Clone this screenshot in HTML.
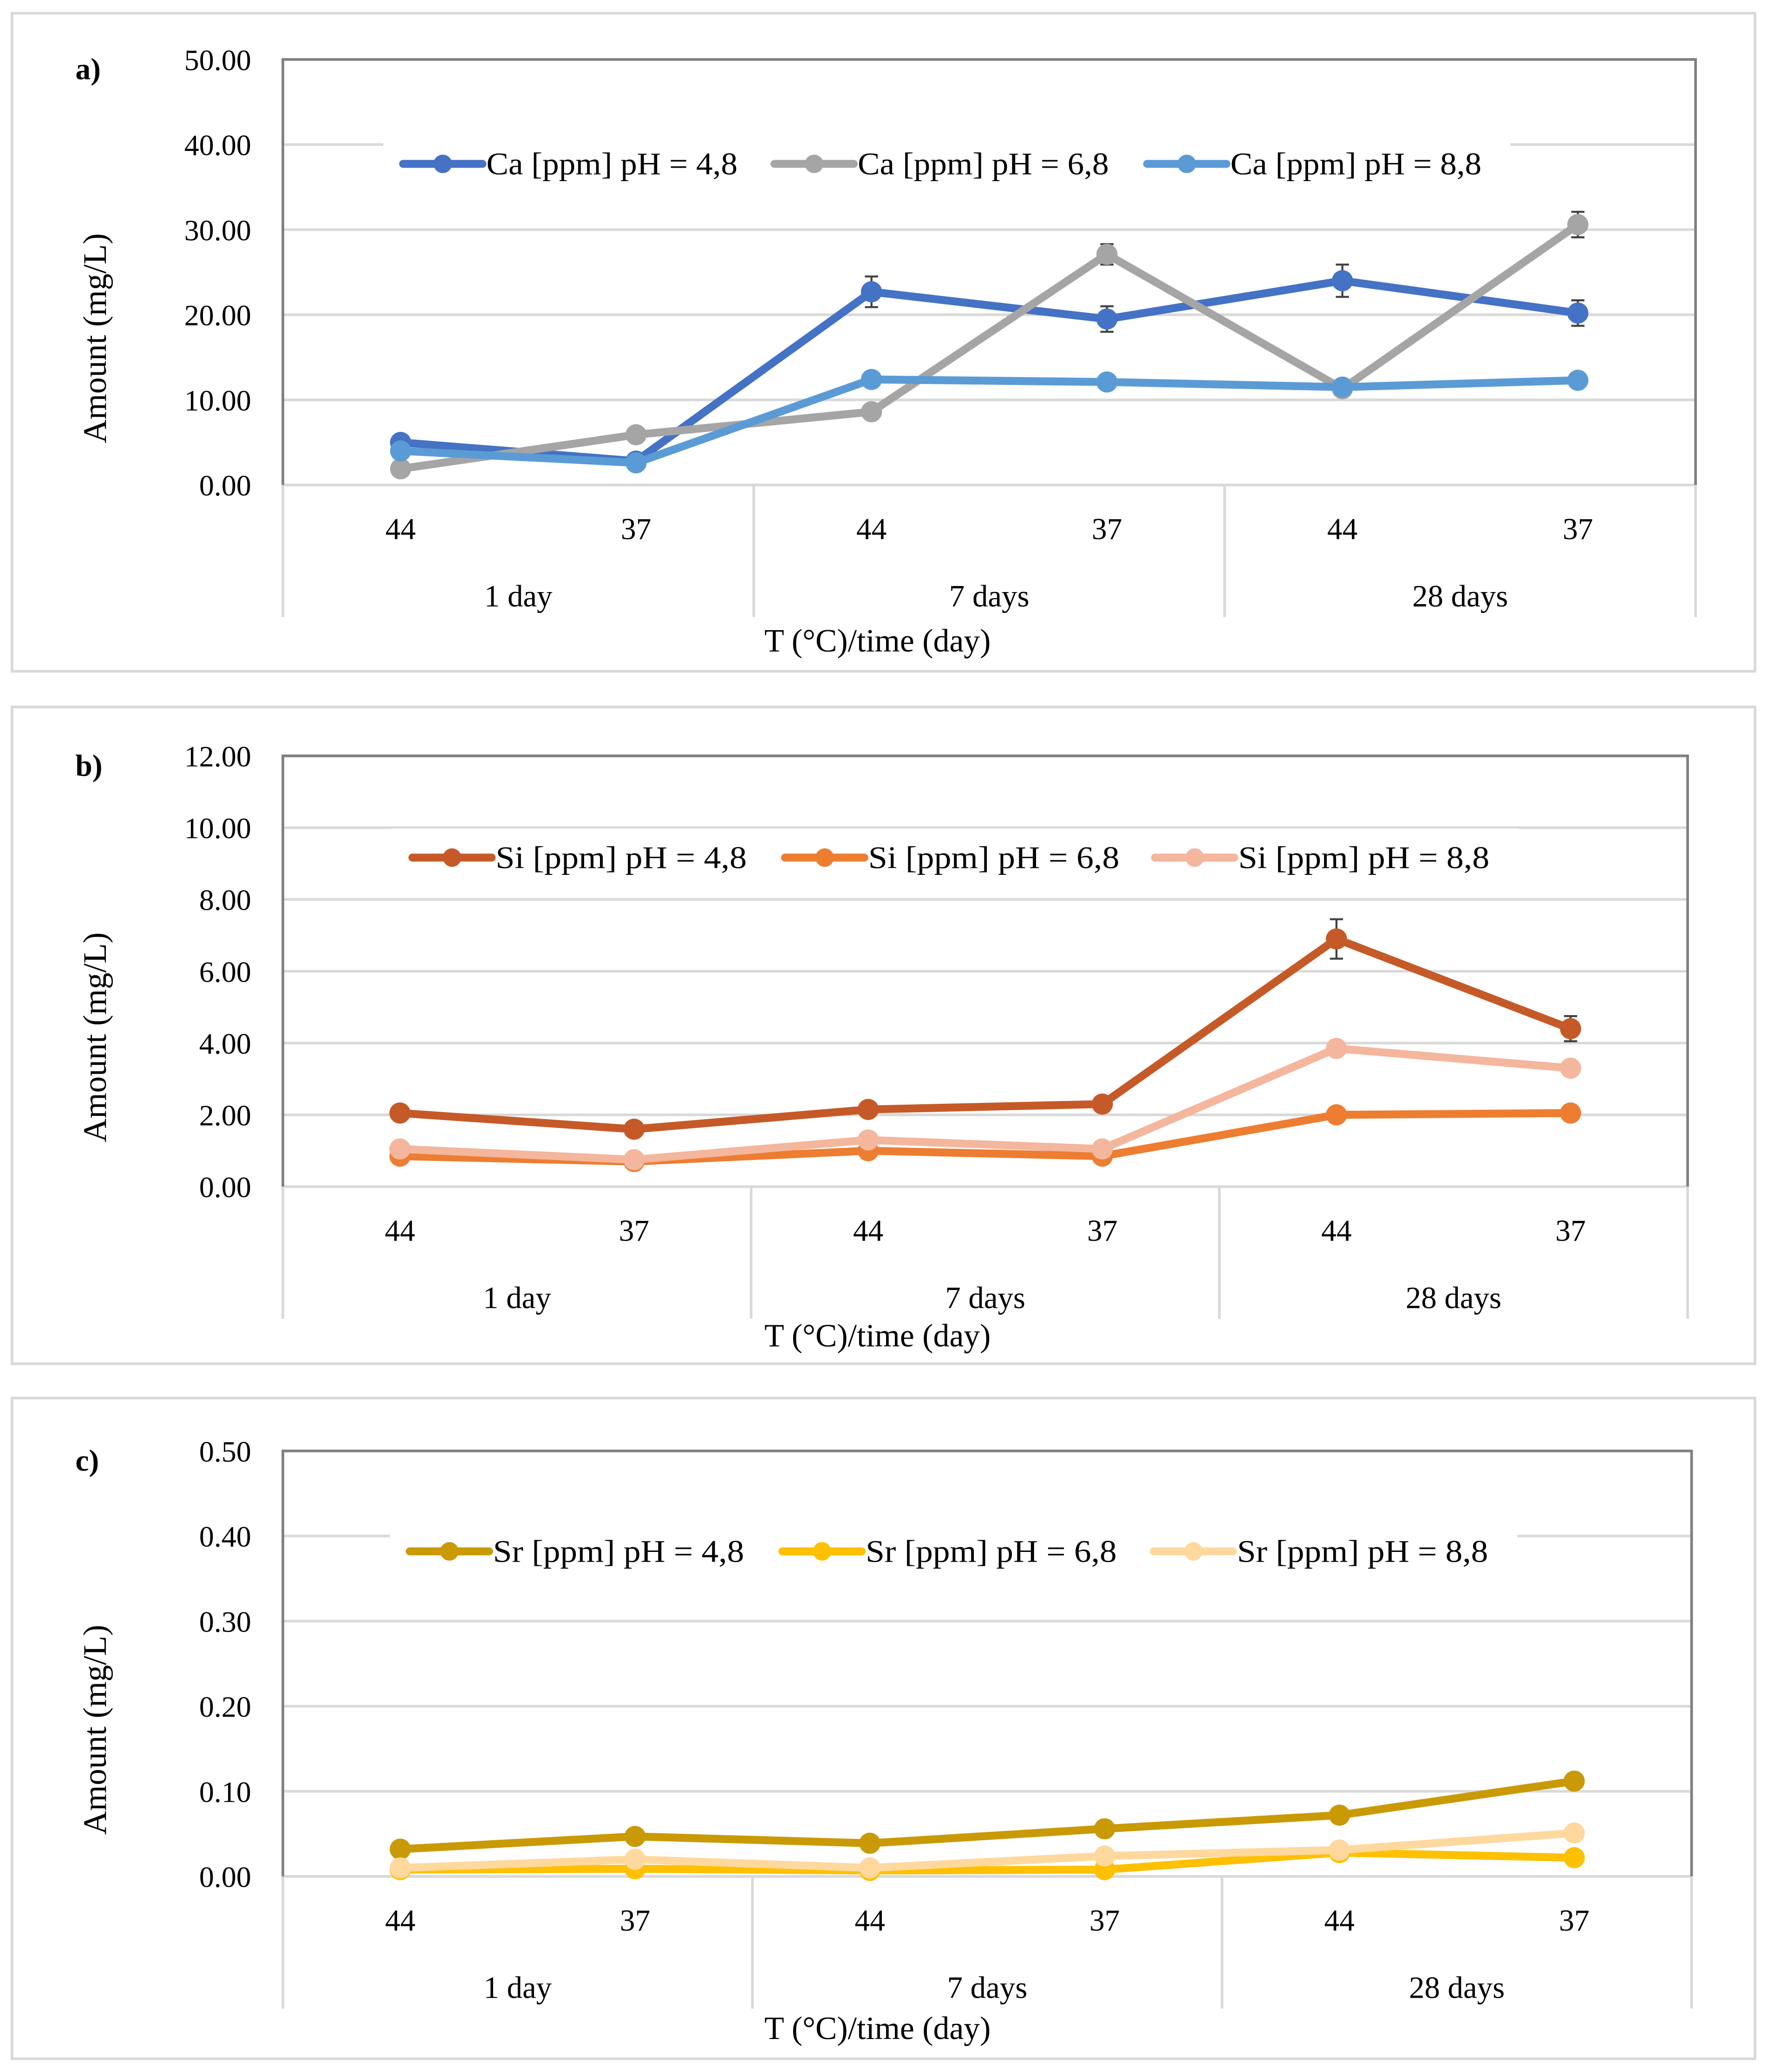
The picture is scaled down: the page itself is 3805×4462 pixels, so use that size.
<!DOCTYPE html>
<html><head><meta charset="utf-8">
<style>
html,body{margin:0;padding:0;background:#fff;}
svg{display:block;}
text{font-family:"Liberation Serif",serif;fill:#000;}
</style></head>
<body>
<svg id="fig" width="3805" height="4462" viewBox="0 0 1337 1568" xmlns="http://www.w3.org/2000/svg"></svg>
<script>
// Shared categories
const temps = ["44","37","44","37","44","37"];
const groups = ["1 day","7 days","28 days"];

// Panel a (Ca)
const caTicks = [0,10,20,30,40,50];
const caLabels = ["Ca [ppm] pH = 4,8","Ca [ppm] pH = 6,8","Ca [ppm] pH = 8,8"];
const ca48 = [5.0,2.8,22.7,19.5,24.0,20.2];
const ca48err = [0.5,0.4,1.8,1.5,1.9,1.5];
const ca68 = [1.9,5.9,8.6,27.1,11.3,30.6];
const ca68err = [0.3,0.4,0.5,1.2,0.5,1.5];
const ca88 = [4.0,2.6,12.4,12.1,11.5,12.3];
const ca88err = [0.3,0.3,0.4,0.4,0.4,0.4];

// Panel b (Si)
const siTicks = [0,2,4,6,8,10,12];
const siLabels = ["Si [ppm] pH = 4,8","Si [ppm] pH = 6,8","Si [ppm] pH = 8,8"];
const si48 = [2.05,1.6,2.15,2.3,6.9,4.4];
const si48err = [0.08,0.06,0.08,0.08,0.55,0.35];
const si68 = [0.85,0.7,1.0,0.85,2.0,2.05];
const si68err = [0.04,0.04,0.05,0.04,0.08,0.08];
const si88 = [1.05,0.75,1.3,1.05,3.85,3.3];
const si88err = [0.05,0.04,0.06,0.05,0.15,0.12];

// Panel c (Sr)
const srTicks = [0,0.1,0.2,0.3,0.4,0.5];
const srLabels = ["Sr [ppm] pH = 4,8","Sr [ppm] pH = 6,8","Sr [ppm] pH = 8,8"];
const sr48 = [0.032,0.047,0.039,0.056,0.072,0.112];
const sr48err = [0.002,0.002,0.002,0.002,0.003,0.005];
const sr68 = [0.008,0.009,0.007,0.008,0.028,0.022];
const sr68err = [0.001,0.001,0.001,0.001,0.002,0.002];
const sr88 = [0.010,0.020,0.010,0.024,0.031,0.051];
const sr88err = [0.001,0.001,0.001,0.002,0.002,0.003];

const NS="http://www.w3.org/2000/svg";
const svg=document.getElementById('fig');
function el(tag,attrs,parent,txt){const e=document.createElementNS(NS,tag);for(const k in attrs)e.setAttribute(k,attrs[k]);if(txt!==undefined)e.textContent=txt;(parent||svg).appendChild(e);return e;}

function panel(cfg){
  const g=el('g',{});
  
  
  const box=el('rect',{x:9,y:cfg.boxY,width:1319,height:cfg.boxH,fill:'none',stroke:'#d9d9d9','stroke-width':2},g);
  
  
  const L=214,R=cfg.R,T=cfg.T,B=cfg.B;
  const ymax=cfg.ticks[cfg.ticks.length-1];
  const y=v=>B-(v/ymax)*(B-T);
  const n=temps.length, step=(R-L)/n;
  const x=i=>L+step*(i+0.5);
  cfg.ticks.forEach((t,i)=>{
    const gl=el('line',{x1:L,x2:R,y1:y(t),y2:y(t),stroke:'#d9d9d9','stroke-width':2},g);
    
    
    const tl=el('text',{x:190,y:y(t)+8,'text-anchor':'end','font-size':22.5},g,t.toFixed(2));
    
    
  });
  const pb=el('path',{d:`M${L},${B} V${T} H${R} V${B}`,fill:'none',stroke:'#7f7f7f','stroke-width':2},g);
  
  
  const bottom=B+100;
  for(let k=0;k<=groups.length;k++){
    const sx=L+k*2*step;
    const s=el('line',{x1:sx,x2:sx,y1:B,y2:bottom,stroke:'#d9d9d9','stroke-width':2},g);
    
    
  }
  temps.forEach((t,i)=>{
    const tl=el('text',{x:x(i),y:B+41,'text-anchor':'middle','font-size':23},g,t);
    
    
  });
  groups.forEach((gname,k)=>{
    const tl=el('text',{x:L+(k*2+1)*step,y:B+92,'text-anchor':'middle','font-size':23.5},g,gname);
    
    
  });
  const xt=el('text',{x:664,y:cfg.xtY,'text-anchor':'middle','font-size':24.5},g,'T (°C)/time (day)');
  
  
  const cy=(T+B)/2+50;
  const yt=el('text',{x:0,y:0,'text-anchor':'middle','font-size':25,transform:`translate(80,${cy}) rotate(-90)`},g,'Amount (mg/L)');
  
  
  const pl=el('text',{x:57,y:T+15,'font-size':23,'font-weight':'bold'},g,cfg.id+')');
  
  
  const ly=T+(cfg.legendOffset);
  const lb=el('rect',{x:cfg.legX[0]-15,y:ly-22,width:cfg.legX[2]+290-cfg.legX[0],height:44,fill:'#fff'},g);
  
  
  cfg.series.forEach((s,si)=>{
    const lg=el('g',{},g);
    
    
    const lx=cfg.legX[si];
    el('line',{x1:lx,x2:lx+60,y1:ly,y2:ly,stroke:s.color,'stroke-width':6,'stroke-linecap':'round'},lg);
    el('circle',{cx:lx+30,cy:ly,r:7,fill:s.color},lg);
    el('text',{x:lx+63,y:ly+8,'font-size':24,textLength:190,lengthAdjust:'spacingAndGlyphs'},lg,cfg.labels[si]);
  });
  cfg.series.forEach((s,si)=>{
    const sg=el('g',{},g);
    
    
    const pts=s.vals.map((v,i)=>x(i)+','+y(v)).join(' ');
    const ln=el('polyline',{points:pts,fill:'none',stroke:s.color,'stroke-width':6,'stroke-linejoin':'round'},sg);
    
    
    s.vals.forEach((v,i)=>{
      const e=s.err[i];
      const eb=el('path',{d:`M${x(i)},${y(v+e)} V${y(v-e)} M${x(i)-5},${y(v+e)} H${x(i)+5} M${x(i)-5},${y(v-e)} H${x(i)+5}`,stroke:'#404040','stroke-width':1.5,fill:'none'},sg);
      
      
      const c=el('circle',{cx:x(i),cy:y(v),r:8,fill:s.color},sg);
      
      
    });
  });
}

panel({id:'a',boxY:10,boxH:498,R:1283,T:45,B:367,xtY:493,ticks:caTicks,labels:caLabels,legendOffset:79,legX:[305,586,868],
  series:[{vals:ca48,err:ca48err,color:'#4472C4'},{vals:ca68,err:ca68err,color:'#A5A5A5'},{vals:ca88,err:ca88err,color:'#5B9BD5'}]});
panel({id:'b',boxY:535,boxH:497,R:1277,T:572,B:898,xtY:1019,ticks:siTicks,labels:siLabels,legendOffset:77,legX:[312,594,874],
  series:[{vals:si48,err:si48err,color:'#C55A28'},{vals:si68,err:si68err,color:'#ED7D31'},{vals:si88,err:si88err,color:'#F4B69C'}]});
panel({id:'c',boxY:1058,boxH:500,R:1280,T:1098,B:1420,xtY:1543,ticks:srTicks,labels:srLabels,legendOffset:76,legX:[310,592,873],
  series:[{vals:sr48,err:sr48err,color:'#C99A06'},{vals:sr68,err:sr68err,color:'#FFC000'},{vals:sr88,err:sr88err,color:'#FFD89E'}]});
</script>
</body></html>
